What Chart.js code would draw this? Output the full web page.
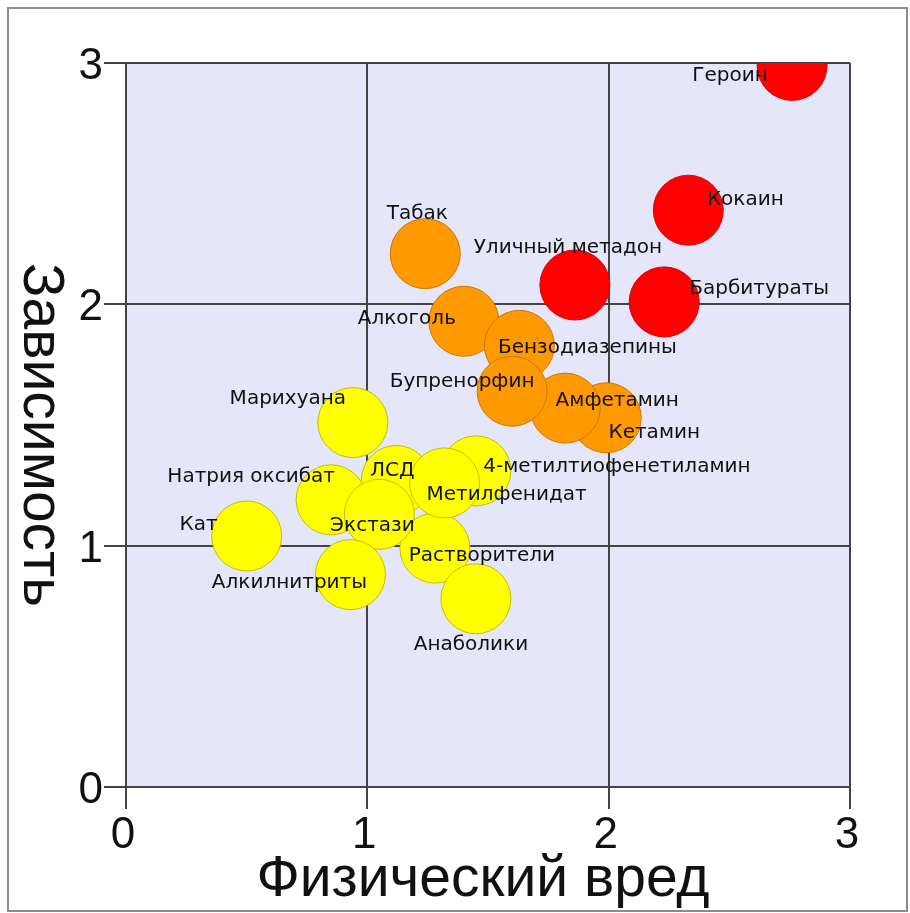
<!DOCTYPE html>
<html>
<head>
<meta charset="utf-8">
<script src="https://cdn.jsdelivr.net/npm/chart.js@4/dist/chart.umd.min.js"></script>
<style>
  html, body { margin: 0; padding: 0; background: #fff; }
  #wrap { width: 910px; height: 913px; position: relative; }
</style>
</head>
<body>
<div id="wrap"><canvas id="harmChart" width="910" height="913"></canvas></div>
<script>
// данные (порядок как в исходной таблице — влияет на наложение кругов)
var drugs = ['Героин', 'Кокаин', 'Барбитураты', 'Уличный метадон', 'Алкоголь', 'Кетамин',
  'Бензодиазепины', 'Амфетамин', 'Табак', 'Бупренорфин', 'Марихуана', 'Растворители',
  '4-метилтиофенетиламин', 'ЛСД', 'Метилфенидат', 'Анаболики', 'Натрия оксибат',
  'Экстази', 'Алкилнитриты', 'Кат'];
var physicalHarm = [2.76, 2.33, 2.23, 1.86, 1.40, 1.99, 1.63, 1.82, 1.24, 1.60, 0.94, 1.28,
  1.45, 1.12, 1.32, 1.45, 0.85, 1.05, 0.93, 0.50];
var dependence = [2.99, 2.39, 2.01, 2.08, 1.93, 1.53, 1.83, 1.57, 2.21, 1.64, 1.51, 0.99,
  1.31, 1.27, 1.26, 0.78, 1.19, 1.13, 0.88, 1.04];
var group = ['red', 'red', 'red', 'red', 'orange', 'orange', 'orange', 'orange', 'orange', 'orange',
  'yellow', 'yellow', 'yellow', 'yellow', 'yellow', 'yellow', 'yellow', 'yellow', 'yellow', 'yellow'];
var tickValues = [0, 1, 2, 3];

// оформление
var fillColors = { red: '#ff0000', orange: '#ff9900', yellow: '#ffff00' };
var edgeColors = { red: '#e00000', orange: '#c87800', yellow: '#c0c000' };
// смещение подписи от центра круга, px
var labelShift = {
  'Героин': [-62, 10], 'Кокаин': [57, -10], 'Уличный метадон': [-7, -37],
  'Барбитураты': [95, -13], 'Табак': [-8, -40], 'Алкоголь': [-57, -2],
  'Бензодиазепины': [68, 2], 'Бупренорфин': [-50, -9], 'Амфетамин': [52, -7],
  'Кетамин': [48, 15], 'Марихуана': [-65, -24], '4-метилтиофенетиламин': [141, -4],
  'Метилфенидат': [62, 12], 'ЛСД': [-4, -10], 'Натрия оксибат': [-80, -23],
  'Экстази': [-7, 12], 'Кат': [-48, -11], 'Растворители': [47, 8],
  'Алкилнитриты': [-61, 8], 'Анаболики': [-5, 46]
};

var points = [];
for (var i = 0; i < drugs.length; i++) {
  points.push({ x: physicalHarm[i], y: dependence[i] });
}

var plotBackground = {
  id: 'plotBackground',
  beforeDraw: function(chart) {
    var ctx = chart.ctx, a = chart.chartArea;
    ctx.save();
    ctx.fillStyle = '#fff';
    ctx.fillRect(0, 0, chart.width, chart.height);
    ctx.strokeStyle = '#8c8c8c';
    ctx.lineWidth = 2;
    ctx.strokeRect(8, 8, 899, 903);
    ctx.fillStyle = '#e6e6fa';
    ctx.fillRect(a.left, a.top, a.right - a.left, a.bottom - a.top);
    ctx.restore();
  }
};

var bubbleLabels = {
  id: 'bubbleLabels',
  afterDatasetsDraw: function(chart) {
    var ctx = chart.ctx;
    var meta = chart.getDatasetMeta(0);
    ctx.save();
    ctx.font = '20px "DejaVu Sans"';
    ctx.fillStyle = '#111';
    ctx.textAlign = 'center';
    ctx.textBaseline = 'middle';
    meta.data.forEach(function(el, i) {
      var s = labelShift[drugs[i]] || [0, 0];
      ctx.fillText(drugs[i], el.x + s[0], el.y + s[1]);
    });
    ctx.restore();
  }
};

var axisTitles = {
  id: 'axisTitles',
  afterDraw: function(chart) {
    var ctx = chart.ctx;
    ctx.save();
    ctx.fillStyle = '#111';
    ctx.font = '57px "Liberation Sans"';
    ctx.textAlign = 'center';
    ctx.textBaseline = 'alphabetic';
    ctx.fillText('Физический вред', 483, 896);
    ctx.translate(40, 435);
    ctx.rotate(Math.PI / 2);
    ctx.textBaseline = 'middle';
    ctx.fillText('Зависимость', 0, 0);
    ctx.restore();
  }
};

var ctx = document.getElementById('harmChart').getContext('2d');
var myChart = new Chart(ctx, {
  type: 'bubble',
  data: {
    datasets: [{
      data: points,
      radius: 35,
      borderWidth: 1,
      clip: 0,
      backgroundColor: group.map(function(g) { return fillColors[g]; }),
      borderColor: group.map(function(g) { return edgeColors[g]; }),
      hoverRadius: 0
    }]
  },
  options: {
    responsive: false,
    animation: false,
    events: [],
    layout: { padding: { top: 63, right: 60, left: 0, bottom: 0 } },
    plugins: { legend: { display: false }, tooltip: { enabled: false } },
    scales: {
      x: {
        type: 'linear', min: 0, max: 3,
        afterBuildTicks: function(s) { s.ticks = tickValues.map(function(v) { return { value: v }; }); },
        afterFit: function(s) { s.height = 126; s.paddingLeft = 0; s.paddingRight = 0; },
        grid: { color: '#444', lineWidth: 2, tickLength: 22, tickColor: '#444' },
        border: { color: '#444', width: 2 },
        ticks: { color: '#111', font: { family: 'Liberation Sans', size: 44 }, padding: 0, labelOffset: -3, maxRotation: 0 }
      },
      y: {
        type: 'linear', min: 0, max: 3,
        afterBuildTicks: function(s) { s.ticks = tickValues.map(function(v) { return { value: v }; }); },
        afterFit: function(s) { s.width = 126; s.paddingTop = 0; s.paddingBottom = 0; },
        grid: { color: '#444', lineWidth: 2, tickLength: 22, tickColor: '#444' },
        border: { color: '#444', width: 2 },
        ticks: { color: '#111', font: { family: 'Liberation Sans', size: 44 }, padding: 1, labelOffset: 4 }
      }
    }
  },
  plugins: [plotBackground, bubbleLabels, axisTitles]
});
</script>
</body>
</html>
